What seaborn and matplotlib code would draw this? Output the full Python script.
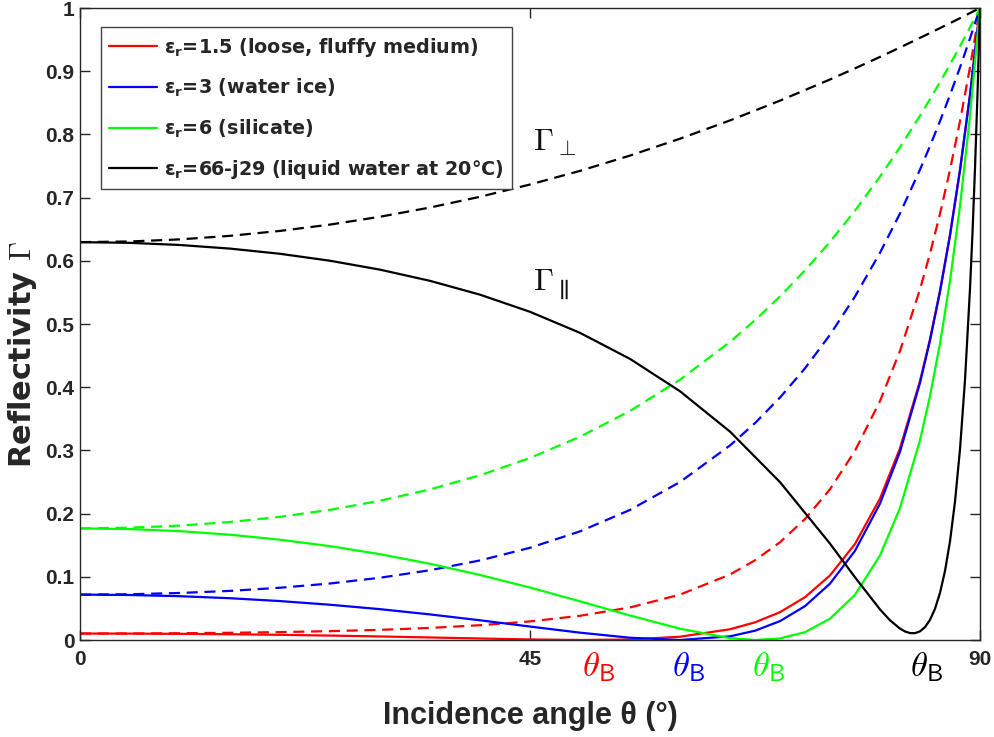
import numpy as np
import pandas as pd
import matplotlib
matplotlib.use("Agg")
import matplotlib.pyplot as plt
import seaborn as sns

# incidence angles (deg) for the three lossless media
theta = [0, 5, 10, 15, 20, 25, 30, 35, 40, 45, 50, 55, 60, 65, 67.5, 70, 72.5,
         75, 77.5, 80, 82, 84, 85, 86, 87, 88, 89, 90]

# reflectivity: perpendicular (dashed) and parallel (solid)
perp_15 = [0.0102, 0.0103, 0.0107, 0.0114, 0.0125, 0.0140, 0.0161, 0.0191, 0.0234,
           0.0294, 0.0383, 0.0515, 0.0718, 0.1036, 0.1261, 0.1547, 0.1914, 0.2385,
           0.2994, 0.3781, 0.4574, 0.5548, 0.6115, 0.6744, 0.7439, 0.8209, 0.9060, 1.0]
par_15 = [0.0102, 0.0101, 0.0097, 0.0091, 0.0082, 0.0070, 0.0056, 0.0040, 0.0024,
          0.0009, 0.0000, 0.0008, 0.0052, 0.0170, 0.0279, 0.0440, 0.0677, 0.1022,
          0.1520, 0.2238, 0.3034, 0.4099, 0.4760, 0.5525, 0.6410, 0.7436, 0.8623, 1.0]
perp_3 = [0.0718, 0.0724, 0.0744, 0.0777, 0.0827, 0.0894, 0.0985, 0.1104, 0.1259,
          0.1459, 0.1719, 0.2058, 0.2500, 0.3078, 0.3432, 0.3836, 0.4299, 0.4829,
          0.5435, 0.6127, 0.6750, 0.7443, 0.7816, 0.8210, 0.8624, 0.9060, 0.9519, 1.0]
par_3 = [0.0718, 0.0712, 0.0693, 0.0661, 0.0616, 0.0558, 0.0488, 0.0405, 0.0312,
         0.0213, 0.0116, 0.0036, 0.0000, 0.0058, 0.0147, 0.0299, 0.0536, 0.0892,
         0.1411, 0.2158, 0.2979, 0.4068, 0.4739, 0.5513, 0.6404, 0.7434, 0.8623, 1.0]
perp_6 = [0.1766, 0.1777, 0.1810, 0.1867, 0.1949, 0.2060, 0.2203, 0.2383, 0.2606,
          0.2880, 0.3216, 0.3624, 0.4118, 0.4716, 0.5060, 0.5436, 0.5849, 0.6300,
          0.6794, 0.7332, 0.7797, 0.8295, 0.8557, 0.8827, 0.9106, 0.9395, 0.9693, 1.0]
par_6 = [0.1766, 0.1755, 0.1722, 0.1666, 0.1587, 0.1485, 0.1358, 0.1206, 0.1029,
         0.0830, 0.0612, 0.0388, 0.0179, 0.0029, 0.0000, 0.0024, 0.0124, 0.0337,
         0.0715, 0.1337, 0.2088, 0.3162, 0.3858, 0.4689, 0.5682, 0.6869, 0.8291, 1.0]

# liquid water (66-j29)
theta_w_par = [0, 5, 10, 15, 20, 25, 30, 35, 40, 45, 50, 55, 60, 65, 70, 75, 77.5,
               80, 81, 82, 82.5, 83, 83.5, 84, 84.5, 85, 85.5, 86, 86.5, 87, 87.5,
               88, 88.5, 89, 89.25, 89.5, 89.75, 90]
par_w = [0.6295, 0.6284, 0.6250, 0.6193, 0.6111, 0.6001, 0.5860, 0.5683, 0.5464,
         0.5193, 0.4860, 0.4448, 0.3936, 0.3297, 0.2498, 0.1525, 0.0992, 0.0484,
         0.0312, 0.0180, 0.0135, 0.0109, 0.0108, 0.0137, 0.0204, 0.0319, 0.0494,
         0.0745, 0.1092, 0.1562, 0.2189, 0.3018, 0.4112, 0.5557, 0.6443, 0.7463,
         0.8641, 1.0]
theta_w_perp = [0, 5, 10, 15, 20, 25, 30, 35, 40, 45, 50, 55, 60, 65, 70, 75, 77.5,
                80, 82, 85, 87, 88, 89, 89.5, 90]
perp_w = [0.6295, 0.6306, 0.6339, 0.6395, 0.6473, 0.6573, 0.6697, 0.6843, 0.7013,
          0.7207, 0.7423, 0.7665, 0.7932, 0.8221, 0.8534, 0.8869, 0.9045, 0.9226,
          0.9375, 0.9604, 0.9760, 0.9839, 0.9920, 0.9960, 1.0]

labels = [r"ε$_\mathbf{r}$=1.5 (loose, fluffy medium)",
          r"ε$_\mathbf{r}$=3 (water ice)",
          r"ε$_\mathbf{r}$=6 (silicate)",
          r"ε$_\mathbf{r}$=66-j29 (liquid water at 20°C)"]
colors = ["#ff0000", "#0000ff", "#00ff00", "#000000"]

# Brewster-angle tick labels
brewster_pos = [51.9, 60.9, 68.9, 84.7]
xtick_pos = [0, 45] + brewster_pos + [90]
xtick_lab = ["0", "45"] + [r"$\theta_\mathsf{B}$"] * 4 + ["90"]
ytick_pos = [0, 0.1, 0.2, 0.3, 0.4, 0.5, 0.6, 0.7, 0.8, 0.9, 1.0]
ytick_lab = ["0", "0.1", "0.2", "0.3", "0.4", "0.5", "0.6", "0.7", "0.8", "0.9", "1"]

sns.set_theme(style="ticks")
plt.rcParams["font.family"] = ["Liberation Sans", "DejaVu Sans"]
plt.rcParams["font.weight"] = "bold"
plt.rcParams["mathtext.fontset"] = "custom"
plt.rcParams["mathtext.rm"] = "DejaVu Sans"
plt.rcParams["mathtext.bf"] = "DejaVu Sans:bold"
plt.rcParams["mathtext.it"] = "DejaVu Sans:italic"

fig = plt.figure(figsize=(9.95, 7.37), dpi=100)
ax = fig.add_axes([80 / 995, 1 - 640 / 737, 900 / 995, 632 / 737])

dash = (5, 3)
series = [
    (theta, perp_15, par_15, colors[0], labels[0]),
    (theta, perp_3, par_3, colors[1], labels[1]),
    (theta, perp_6, par_6, colors[2], labels[2]),
]
for th, pe, pa, col, lab in series:
    sns.lineplot(x=th, y=pe, color=col, lw=1.6, ax=ax, linestyle=(0, dash))
    sns.lineplot(x=th, y=pa, color=col, lw=1.6, ax=ax, label=lab)
sns.lineplot(x=theta_w_perp, y=perp_w, color=colors[3], lw=1.6, ax=ax,
             linestyle=(0, dash))
sns.lineplot(x=theta_w_par, y=par_w, color=colors[3], lw=1.6, ax=ax, label=labels[3])

ax.set_xlim(0, 90)
ax.set_ylim(0, 1)
ax.set_xticks(xtick_pos)
ax.set_xticklabels(xtick_lab)
ax.set_yticks(ytick_pos)
ax.set_yticklabels(ytick_lab)

ax.tick_params(direction="in", length=7, width=1, color="#262626",
               labelsize=15, labelcolor="#262626", top=True, right=True)
ax.tick_params(axis="x", pad=7)
ax.tick_params(axis="y", pad=4)
tick_cols = [None, None] + colors + [None]
for lbl, c in zip(ax.get_xticklabels(), tick_cols):
    lbl.set_fontweight("bold")
    if c is not None:
        lbl.set_color(c)
        lbl.set_fontsize(25)
        lbl.set_fontweight("normal")
        lbl.set_math_fontfamily("cm")
for lbl in ax.get_yticklabels():
    lbl.set_fontweight("bold")
for i, t in enumerate(ax.xaxis.get_major_ticks()):
    if 2 <= i <= 5:
        t.tick1line.set_visible(False)
        t.tick2line.set_visible(False)

for sp in ax.spines.values():
    sp.set_color("#262626")
    sp.set_linewidth(1)

ax.set_xlabel("Incidence angle θ (°)", fontsize=22, fontweight="bold",
              color="#262626", va="top")
ax.xaxis.set_label_coords(0.5, -0.097)
ylab = ax.set_ylabel(r"Reflectivity $\Gamma$", fontsize=22, fontweight="bold",
                     color="#262626", family="DejaVu Sans")
ylab.set_math_fontfamily("cm")
ax.yaxis.set_label_coords(-0.045, 0.451)

t1 = ax.text(45.3, 0.775, r"$\Gamma_\bot$", fontsize=23, color="#111111",
             fontweight="normal")
t1.set_math_fontfamily("cm")
t2 = ax.text(45.3, 0.555, r"$\Gamma_\parallel$", fontsize=23, color="#111111",
             fontweight="normal")
t2.set_math_fontfamily("cm")

leg = ax.legend(loc="upper left", bbox_to_anchor=(0.023, 0.97), borderaxespad=0,
                handlelength=2.5, handletextpad=0.35, labelspacing=0.95,
                borderpad=0.45, fancybox=False, framealpha=1, edgecolor="#444444",
                prop={"family": "DejaVu Sans", "weight": "bold", "size": 13.8})
leg.get_frame().set_linewidth(1)

fig.savefig("out.png", dpi=100)
